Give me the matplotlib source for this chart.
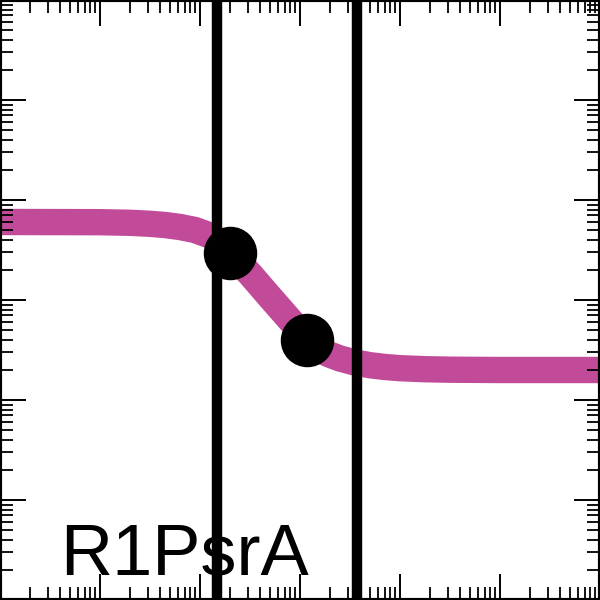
import numpy as np
import matplotlib.pyplot as plt

# curve (log-log axes, 6 decades each)
curve_x = [0.001, 0.003981, 0.01, 0.01995, 0.03162, 0.04467, 0.0631, 0.08913,
           0.1259, 0.1585, 0.1995, 0.3162, 0.4898, 0.7943, 1.202, 1.514, 1.905,
           2.512, 3.548, 5.012, 7.079, 10.0, 17.78, 31.62, 100.0, 1000.0]
curve_y = [6.026, 6.012, 5.998, 5.916, 5.781, 5.623, 5.370, 5.012,
           4.416, 3.758, 2.951, 1.820, 1.096, 0.631, 0.398, 0.3273, 0.2884,
           0.2600, 0.2371, 0.2228, 0.2138, 0.2080, 0.2032, 0.2009, 0.1995, 0.1995]

point_x = [0.1995, 1.175]
point_y = [2.951, 0.4027]

vline_x = [0.148, 3.715]

label = "R1PsrA"

fig = plt.figure(figsize=(6, 6), dpi=100)
ax = fig.add_axes([0, 0, 1, 1])

ax.plot(curve_x, curve_y, color="#c14b98", lw=19, solid_capstyle="butt",
        solid_joinstyle="round", zorder=1)
for xv in vline_x:
    ax.axvline(xv, color="black", lw=7.5, zorder=2)
ax.plot(point_x, point_y, "o", color="black", ms=37.5, zorder=3)

ax.set_xscale("log")
ax.set_yscale("log")
ax.set_xlim(1e-3, 1e3)
ax.set_ylim(1e-3, 1e3)

ax.tick_params(which="both", direction="in", top=True, right=True,
               labelbottom=False, labelleft=False)
ax.tick_params(which="major", length=18.7, width=1.4)
ax.tick_params(which="minor", length=9.6, width=1.3)
for s in ax.spines.values():
    s.set_linewidth(3)

ax.text(0.1, 0.042, label, transform=ax.transAxes, fontsize=52,
        family="Liberation Sans", va="baseline", ha="left", zorder=4)

fig.savefig("out.png", dpi=100)
